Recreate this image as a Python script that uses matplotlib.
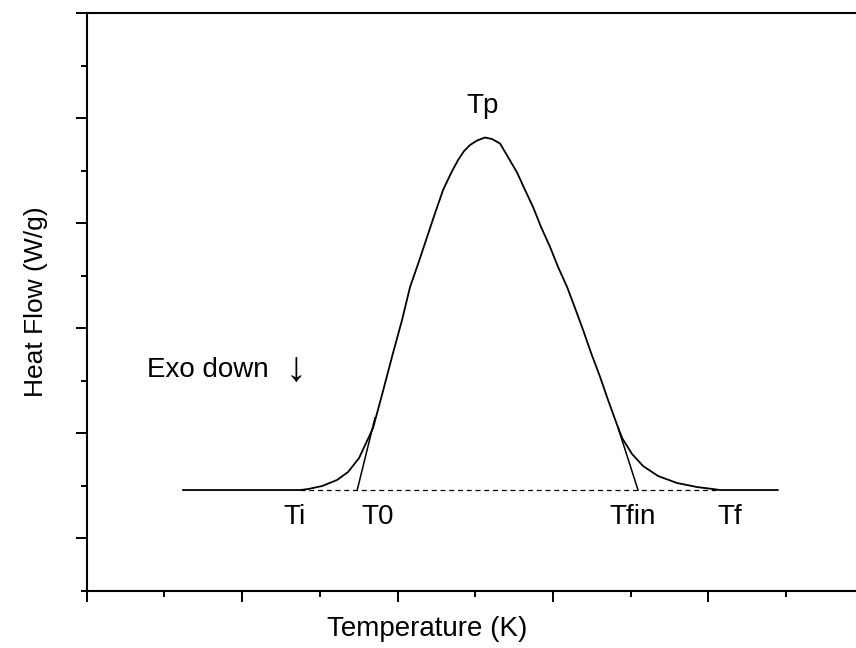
import numpy as np
import matplotlib.pyplot as plt

plt.rcParams['font.family'] = ['Liberation Sans', 'DejaVu Sans']

# DSC curve (temperature, heat flow)
temp = [1.240, 2.745, 2.848, 3.028, 3.221, 3.363, 3.505, 3.595, 3.685, 3.813,
        3.942, 4.058, 4.161, 4.277, 4.380, 4.483, 4.586, 4.689, 4.779, 4.856,
        4.933, 5.023, 5.126, 5.216, 5.319, 5.422, 5.538, 5.641, 5.744, 5.847,
        5.963, 6.066, 6.182, 6.284, 6.388, 6.491, 6.607, 6.709, 6.826, 6.890,
        7.018, 7.160, 7.353, 7.597, 7.854, 8.060, 8.151, 8.893]
flow = [1.914, 1.914, 1.933, 1.990, 2.105, 2.257, 2.524, 2.810, 3.095, 3.800,
        4.524, 5.152, 5.781, 6.276, 6.733, 7.190, 7.629, 7.952, 8.200, 8.371,
        8.486, 8.571, 8.629, 8.600, 8.514, 8.257, 7.962, 7.629, 7.305, 6.924,
        6.543, 6.162, 5.781, 5.381, 4.962, 4.524, 4.067, 3.629, 3.152, 2.905,
        2.600, 2.371, 2.181, 2.048, 1.971, 1.933, 1.914, 1.914]

# onset / endset tangents and baseline
tan_left_x = [3.481, 3.710]
tan_left_y = [1.914, 3.29]
tan_right_x = [7.095, 6.838]
tan_right_y = [1.914, 3.10]
base_x = [2.745, 8.151]
base_y = [1.914, 1.914]

labels = ['Ti', 'T0', 'Tfin', 'Tf']
label_x = [2.67, 3.74, 7.02, 8.28]
label_y = 1.40

fig = plt.figure(figsize=(8.56, 6.48), dpi=100)
ax = fig.add_axes([0.1013, 0.0887, 0.8987, 0.8912])

ax.plot(temp, flow, color='black', lw=1.3, solid_joinstyle='round')
ax.plot(tan_left_x, tan_left_y, color='black', lw=1.1)
ax.plot(tan_right_x, tan_right_y, color='black', lw=1.1)
ax.plot(base_x, base_y, color='black', lw=0.9, ls=(0, (4, 3)))

for lab, lx in zip(labels, label_x):
    ax.text(lx, label_y, lab, fontsize=20, ha='center', va='center')
ax.text(5.10, 9.22, 'Tp', fontsize=20, ha='center', va='center')
ax.text(0.776, 4.20, 'Exo down', fontsize=20, ha='left', va='center')
ax.text(2.56, 4.20, '\u2193', fontsize=30, ha='left', va='center')

ax.set_xlim(0, 9.90)
ax.set_ylim(0, 11)
ax.set_xticks([0, 2, 4, 6, 8])
ax.set_xticks([1, 3, 5, 7, 9], minor=True)
ax.set_yticks([1, 3, 5, 7, 9, 11])
ax.set_yticks([0, 2, 4, 6, 8, 10], minor=True)
ax.tick_params(which='both', direction='out', width=1.4,
               labelbottom=False, labelleft=False)
ax.tick_params(which='major', length=8)
ax.tick_params(which='minor', length=4.5)
ax.spines['right'].set_visible(False)
for s in ['left', 'top', 'bottom']:
    ax.spines[s].set_linewidth(1.5)

ax.set_xlabel('Temperature (K)', fontsize=20, labelpad=10, x=0.442)
ax.set_ylabel('Heat Flow (W/g)', fontsize=19, labelpad=20)

fig.savefig('out.png', dpi=100)
